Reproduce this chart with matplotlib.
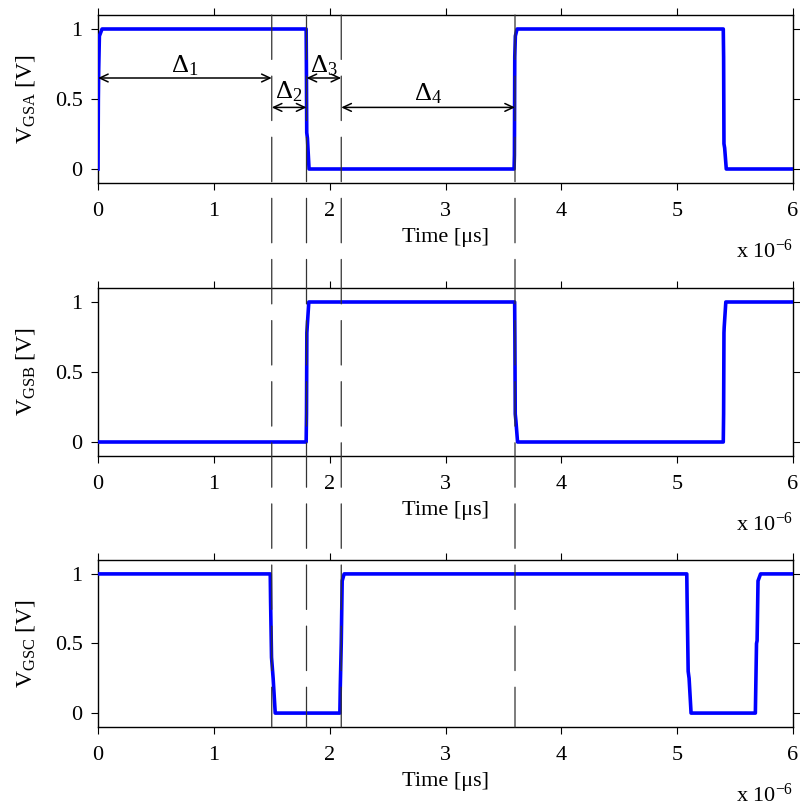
import matplotlib
matplotlib.use("Agg")
import matplotlib.pyplot as plt
from matplotlib.patches import ConnectionPatch

plt.rcParams['font.family'] = ['Liberation Serif', 'DejaVu Serif']
plt.rcParams['mathtext.fontset'] = 'custom'
plt.rcParams['mathtext.rm'] = 'Liberation Serif'
plt.rcParams['mathtext.it'] = 'Liberation Serif:italic'
plt.rcParams['mathtext.bf'] = 'Liberation Serif:bold'
plt.rcParams['lines.scale_dashes'] = False

# ---- data (time in microseconds, gate voltage in V) ----
tA = [0.0, 0.003, 0.006, 0.012, 0.035, 1.797, 1.799, 1.802, 1.808, 1.822,
      3.592, 3.595, 3.598, 3.603, 3.618, 5.398, 5.401, 5.404, 5.410, 5.424, 6.0]
vA = [0.0, 0.5, 0.71, 0.95, 1.0, 1.0, 0.75, 0.26, 0.22, 0.0,
      0.0, 0.1, 0.8, 0.95, 1.0, 1.0, 0.8, 0.18, 0.15, 0.0, 0.0]

tB = [0.0, 1.797, 1.800, 1.803, 1.806, 1.82, 3.597, 3.599, 3.602, 3.608, 3.622,
      5.398, 5.401, 5.404, 5.406, 5.42, 6.0]
vB = [0.0, 0.0, 0.2, 0.78, 0.82, 1.0, 1.0, 0.75, 0.2, 0.15, 0.0,
      0.0, 0.2, 0.78, 0.82, 1.0, 1.0]

tC = [0.0, 1.487, 1.490, 1.498, 1.512, 1.53, 2.088, 2.092, 2.100, 2.108, 2.125,
      5.083, 5.086, 5.095, 5.103, 5.12, 5.675, 5.685, 5.690, 5.698, 5.72, 6.0]
vC = [1.0, 1.0, 0.8, 0.4, 0.25, 0.0, 0.0, 0.2, 0.5, 0.95, 1.0,
      1.0, 0.8, 0.3, 0.25, 0.0, 0.0, 0.5, 0.52, 0.95, 1.0, 1.0]

event_times = [1.5, 1.8, 2.1, 3.6]
delta_labels = [r'$\Delta_1$', r'$\Delta_2$', r'$\Delta_3$', r'$\Delta_4$']
delta_start = [0.0, 1.5, 1.8, 2.1]
delta_end = [1.5, 1.8, 2.1, 3.6]

ylabels = [r'V$_{\mathrm{GSA}}$ [V]', r'V$_{\mathrm{GSB}}$ [V]', r'V$_{\mathrm{GSC}}$ [V]']
xticks = [0, 1, 2, 3, 4, 5, 6]
yticks = [0, 0.5, 1]
ytick_labels = ['0', '0.5', '1']

# ---- layout ----
W, H = 800, 805
fig = plt.figure(figsize=(W / 100, H / 100), dpi=100)
left, right = 98 / W, 793 / W
boxes = [(15, 183), (288, 456), (560, 727)]
axes = []
FS = 16
for (top, bot) in boxes:
    ax = fig.add_axes([left, 1 - bot / H, right - left, (bot - top) / H])
    axes.append(ax)

signals = [(tA, vA), (tB, vB), (tC, vC)]
for ax, (t, v), yl in zip(axes, signals, ylabels):
    ax.plot(t, v, color='#0000FF', lw=2.6, solid_joinstyle='round', zorder=3)
    ax.set_xlim(0, 6)
    ax.set_ylim(-0.1, 1.1)
    ax.set_xticks(xticks)
    ax.set_xticklabels([str(x) for x in xticks])
    ax.set_yticks(yticks)
    ax.set_yticklabels(ytick_labels)
    ax.tick_params(direction='out', length=5, width=0.8, labelsize=FS,
                   top=True, right=True, pad=6)
    ax.tick_params(axis='x', pad=9)
    for sp in ax.spines.values():
        sp.set_linewidth(1.0)
    ax.set_xlabel('Time [\u03bcs]', fontsize=FS, labelpad=5)
    ax.set_ylabel(yl, fontsize=FS + 1)
    ax.yaxis.set_label_coords(-0.088, 0.5)
    ax.text(1.0, -0.445, r'x 10$^{\mathrm{-6}}$', transform=ax.transAxes,
            ha='right', va='baseline', fontsize=FS)

# delta annotations on the top axes
ax1 = axes[0]
arrow_y = [0.65, 0.44, 0.65, 0.44]
label_y = [0.74, 0.555, 0.74, 0.535]
for lab, x0, x1, ya, yt in zip(delta_labels, delta_start, delta_end, arrow_y, label_y):
    ax1.annotate('', xy=(x1, ya), xytext=(x0, ya),
                 arrowprops=dict(arrowstyle='<->,head_length=0.6,head_width=0.28',
                                 color='black', lw=1.1, shrinkA=0, shrinkB=0))
    ax1.text((x0 + x1) / 2, yt, lab, ha='center', va='center', fontsize=FS + 3)

# dashed vertical markers across all three panels
for x in event_times:
    cp = ConnectionPatch(xyA=(x, 1.0), coordsA=axes[0].get_xaxis_transform(),
                         xyB=(x, 0.0), coordsB=axes[2].get_xaxis_transform(),
                         linestyle=(0, (32, 12)), color='0.2', lw=0.9, zorder=5)
    fig.add_artist(cp)

fig.savefig('out.png', dpi=100)
